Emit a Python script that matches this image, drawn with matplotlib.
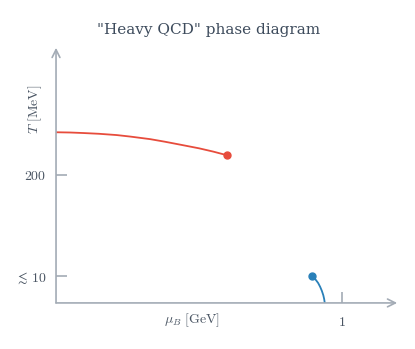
import numpy as np
import matplotlib
matplotlib.use('Agg')
import matplotlib.pyplot as plt

plt.rcParams['mathtext.fontset'] = 'cm'

# schematic units: x in GeV, y in arbitrary "diagram" units
red_x = [0.0, 0.05, 0.095, 0.15, 0.212, 0.26, 0.329, 0.38, 0.445, 0.50, 0.55, 0.597]
red_y = [6.69, 6.68, 6.66, 6.63, 6.58, 6.52, 6.42, 6.32, 6.18, 6.06, 5.93, 5.79]
blue_x = [0.894, 0.900, 0.908, 0.916, 0.923, 0.929, 0.934, 0.937, 0.939]
blue_y = [1.06, 1.00, 0.90, 0.78, 0.63, 0.47, 0.30, 0.15, 0.0]

ytick_pos = [1.06, 5.02]
ytick_lab = [r'$\lesssim\,10$', r'$200$']
xtick_pos = [1.0]
xtick_lab = [r'$1$']

axcol = '#a3abb5'
txtcol = '#4a5563'

fig = plt.figure(figsize=(4.15, 3.49), dpi=100)
ax = fig.add_axes([0.135, 0.132, 0.822, 0.731])
ax.set_xlim(0, 1.192)
ax.set_ylim(0, 10)
for s in ax.spines.values():
    s.set_visible(False)

# axes with arrows
ax.annotate('', xy=(1.0, 0), xytext=(0, 0), xycoords='axes fraction',
            arrowprops=dict(arrowstyle='->', color=axcol, lw=1.2,
                            shrinkA=0, shrinkB=0, mutation_scale=14))
ax.annotate('', xy=(0, 1.0), xytext=(0, 0), xycoords='axes fraction',
            arrowprops=dict(arrowstyle='->', color=axcol, lw=1.2,
                            shrinkA=0, shrinkB=0, mutation_scale=14))

ax.plot(red_x, red_y, color='#e74c3c', lw=1.3, solid_capstyle='butt')
ax.plot(red_x[-1], red_y[-1], 'o', color='#e74c3c', ms=5)
ax.plot(blue_x, blue_y, color='#2980b9', lw=1.3, solid_capstyle='butt')
ax.plot(blue_x[0], blue_y[0], 'o', color='#2980b9', ms=5)

ax.set_xticks(xtick_pos)
ax.set_xticklabels(xtick_lab)
ax.set_yticks(ytick_pos)
ax.set_yticklabels(ytick_lab)
ax.tick_params(direction='in', length=8, width=1.2, color=axcol,
               labelcolor=txtcol, labelsize=10)
ax.tick_params(axis='y', pad=7)
ax.tick_params(axis='x', pad=9)

ax.set_xlabel(r'$\mu_B\ [\mathrm{GeV}]$', color=txtcol, fontsize=10, va='center')
ax.xaxis.set_label_coords(0.40, -0.067)
ax.set_ylabel(r'$T\ [\mathrm{MeV}]$', color=txtcol, fontsize=10, va='center')
ax.yaxis.set_label_coords(-0.062, 0.76)
fig.suptitle('"Heavy QCD" phase diagram', family='DejaVu Serif', fontsize=11,
             color='#3d4b5c', x=0.503, y=0.915, va='center')

fig.savefig('out.png', dpi=100)
